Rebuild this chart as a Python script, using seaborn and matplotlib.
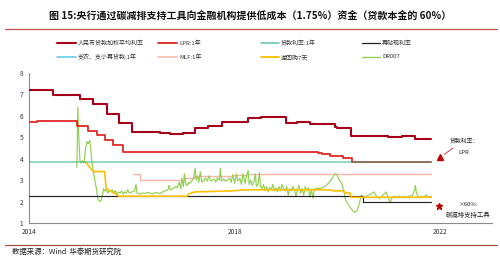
import matplotlib
matplotlib.use('Agg')
import matplotlib.pyplot as plt
import seaborn as sns
import pandas as pd
from matplotlib.lines import Line2D

sns.set_theme(style='white')
plt.rcParams['font.family'] = ['Noto Sans CJK SC', 'DejaVu Sans']
plt.rcParams['axes.unicode_minus'] = False

# ---------------- data (decimal years) ----------------
wavg_x = [2014.0, 2014.47, 2015.0, 2015.25, 2015.51, 2015.74, 2016.0, 2016.3, 2016.55, 2016.74,
          2017.0, 2017.23, 2017.48, 2017.75, 2018.26, 2018.5, 2018.75, 2019.0, 2019.2, 2019.47,
          2019.95, 2019.99, 2020.25, 2020.98, 2021.25, 2021.5, 2021.82]
wavg_y = [7.2, 6.97, 6.77, 6.55, 6.07, 5.68, 5.27, 5.24, 5.2, 5.15,
          5.2, 5.42, 5.55, 5.72, 5.9, 5.95, 5.93, 5.68, 5.7, 5.63,
          5.5, 5.45, 5.06, 5.0, 5.08, 4.92, 4.92]

lpr_x = [2014.0, 2014.15, 2014.3, 2014.93, 2015.15, 2015.32, 2015.48, 2015.64, 2015.82,
         2019.62, 2019.7, 2019.85, 2020.1, 2020.28, 2021.82]
lpr_y = [5.73, 5.76, 5.77, 5.53, 5.31, 5.1, 4.87, 4.62, 4.31,
         4.25, 4.2, 4.15, 4.05, 3.85, 3.85]

loan1y_x = [2014.0, 2021.82]
loan1y_y = [3.86, 3.86]

rediscount_x = [2014.0, 2020.5, 2021.82]
rediscount_y = [2.25, 2.0, 2.0]

relending_x = []
relending_y = []

mlf_x = [2016.03, 2016.16, 2017.03, 2017.2, 2017.95, 2018.25, 2021.82]
mlf_y = [3.27, 3.0, 3.1, 3.2, 3.25, 3.3, 3.3]

rr_x = [2015.1, 2015.25, 2015.47, 2015.5, 2015.62, 2015.75, 2017.07, 2017.1, 2017.22, 2017.95,
        2018.2, 2019.88, 2019.9, 2020.12, 2020.14, 2020.24, 2020.26, 2021.82]
rr_y = [3.85, 3.4, 3.4, 2.6, 2.45, 2.25, 2.25, 2.35, 2.45, 2.5,
        2.55, 2.55, 2.5, 2.5, 2.4, 2.4, 2.2, 2.2]

dr_x = [2014.93, 2014.95, 2014.97, 2014.99, 2015.01, 2015.04, 2015.07, 2015.10, 2015.13, 2015.15,
        2015.18, 2015.20, 2015.22, 2015.25, 2015.28, 2015.31, 2015.34, 2015.37, 2015.40, 2015.43,
        2015.45, 2015.47, 2015.50, 2015.53, 2015.56, 2015.59, 2015.62, 2015.65, 2015.68, 2015.71,
        2015.74, 2015.77, 2015.80, 2015.83, 2015.86, 2015.89, 2015.92, 2015.95, 2016.0, 2016.05,
        2016.08, 2016.1, 2016.15, 2016.2, 2016.25, 2016.3, 2016.35, 2016.4, 2016.45, 2016.5,
        2016.55, 2016.6, 2016.65, 2016.7, 2016.72, 2016.75, 2016.8, 2016.85, 2016.88, 2016.92,
        2016.95, 2016.97, 2017.0, 2017.02, 2017.05, 2017.08, 2017.1, 2017.13, 2017.16, 2017.2,
        2017.23, 2017.25, 2017.28, 2017.3, 2017.33, 2017.36, 2017.4, 2017.43, 2017.46, 2017.5,
        2017.53, 2017.56, 2017.6, 2017.63, 2017.66, 2017.7, 2017.72, 2017.74, 2017.78, 2017.82,
        2017.86, 2017.9, 2017.93, 2017.96, 2018.0, 2018.03, 2018.06, 2018.1, 2018.13, 2018.16,
        2018.2, 2018.23, 2018.26, 2018.28, 2018.31, 2018.34, 2018.37, 2018.4, 2018.42, 2018.45,
        2018.48, 2018.5, 2018.53, 2018.56, 2018.59, 2018.62, 2018.65, 2018.68, 2018.71, 2018.74,
        2018.77, 2018.8, 2018.83, 2018.86, 2018.89, 2018.92, 2018.95, 2018.98, 2019.01, 2019.04,
        2019.07, 2019.1, 2019.13, 2019.16, 2019.19, 2019.22, 2019.25, 2019.28, 2019.31, 2019.34,
        2019.37, 2019.4, 2019.43, 2019.46, 2019.49, 2019.52, 2019.55, 2019.6, 2019.65, 2019.7,
        2019.75, 2019.8, 2019.85, 2019.9, 2019.95, 2019.99, 2020.03, 2020.08, 2020.12, 2020.15,
        2020.2, 2020.25, 2020.3, 2020.34, 2020.38, 2020.42, 2020.46, 2020.5, 2020.55, 2020.6,
        2020.65, 2020.7, 2020.74, 2020.78, 2020.82, 2020.86, 2020.9, 2020.94, 2020.98, 2021.02,
        2021.06, 2021.1, 2021.15, 2021.2, 2021.25, 2021.3, 2021.35, 2021.4, 2021.45, 2021.49,
        2021.51, 2021.53, 2021.57, 2021.62, 2021.67, 2021.72, 2021.77, 2021.82]
dr_y = [3.6, 6.4, 4.9, 3.9, 3.8, 3.9, 3.8, 4.5, 4.8, 4.7,
        4.85, 4.5, 3.9, 3.4, 3.0, 2.6, 2.1, 2.0, 2.05, 2.3,
        2.6, 2.5, 2.55, 2.4, 2.5, 2.45, 2.55, 2.4, 2.5, 2.35,
        2.45, 2.4, 2.5, 2.35, 2.45, 2.4, 2.55, 2.4, 2.45, 2.5,
        2.8, 2.4, 2.35, 2.4, 2.38, 2.42, 2.4, 2.35, 2.42, 2.4,
        2.38, 2.45, 2.5, 2.55, 2.75, 2.55, 2.6, 2.7, 2.65, 2.9,
        2.6, 3.1, 2.7, 3.3, 2.8, 2.75, 2.9, 2.85, 2.95, 3.1,
        3.55, 3.0, 3.2, 2.9, 3.4, 2.9, 3.0, 3.1, 2.95, 3.2,
        2.95, 3.0, 3.05, 2.9, 3.1, 3.0, 3.55, 2.95, 3.05, 2.95,
        3.0, 3.1, 2.9, 3.25, 2.85, 3.3, 2.95, 3.1, 2.8, 3.3,
        2.85, 3.2, 3.45, 2.8, 3.0, 2.75, 2.9, 3.3, 2.7, 2.8,
        3.35, 2.7, 2.6, 2.8, 2.5, 2.7, 2.45, 2.65, 2.55, 2.8,
        2.5, 2.65, 2.45, 2.7, 2.5, 2.8, 2.6, 2.5, 2.7, 2.3,
        2.6, 2.5, 2.7, 2.55, 2.25, 2.6, 2.75, 2.4, 2.6, 2.3,
        2.7, 2.5, 2.65, 2.2, 2.55, 2.15, 2.6, 2.62, 2.6, 2.65,
        2.7, 2.8, 2.95, 3.1, 3.3, 3.25, 3.0, 2.85, 2.5, 2.1,
        1.9, 1.7, 1.55, 1.5, 1.6, 1.9, 2.3, 2.2, 2.25, 2.3,
        2.35, 2.45, 2.3, 2.2, 2.15, 2.25, 2.35, 2.45, 2.2, 1.95,
        2.2, 2.25, 2.2, 2.25, 2.2, 2.25, 2.2, 2.25, 2.3, 2.5,
        2.75, 2.4, 2.2, 2.25, 2.2, 2.3, 2.2, 2.25]

y_ticks = [1, 2, 3, 4, 5, 6, 7, 8]
x_ticks = [2014, 2018, 2022]
x_tick_labels = ['2014', '2018', '2022']

labels = ['人民币贷款加权平均利率', 'LPR:1年', '贷款利率:1年', '再贴现利率',
          '支农、支小再贷款:1年', 'MLF:1年', '逆回购7天', 'DR007']

# ---------------- styles ----------------
c_wavg = '#A8001C'
c_lpr = '#E0201E'
c_loan = '#2BB07F'
c_redis = '#222222'
c_relend = '#5BC8E6'
c_mlf = '#F5B5A8'
c_rr = '#FFC000'
c_dr = '#92D050'

W, H = 500, 267
fig = plt.figure(figsize=(W / 100, H / 100), dpi=100)
ax = fig.add_axes([29 / W, 44 / H, (492 - 29) / W, (223 - 73) / H])


def line(x, y, color, lw, alpha=1.0, z=2, steps=False):
    if len(x) == 0:
        return
    df = pd.DataFrame({'x': x, 'y': y})
    kw = dict(drawstyle='steps-post') if steps else {}
    sns.lineplot(data=df, x='x', y='y', ax=ax, color=color, linewidth=lw, alpha=alpha,
                 estimator=None, sort=False, zorder=z, **kw)


line(mlf_x, mlf_y, c_mlf, 1.0, z=2, steps=True)
line(dr_x, dr_y, c_dr, 0.85, z=3)
line(rediscount_x, rediscount_y, c_redis, 0.85, z=4, steps=True)
line(rr_x, rr_y, c_rr, 1.2, z=5)
line(relending_x, relending_y, c_relend, 1.0, z=5)
line(lpr_x, lpr_y, c_lpr, 1.25, z=6, steps=True)
line(loan1y_x, loan1y_y, c_loan, 1.1, alpha=0.62, z=7, steps=True)
line(wavg_x, wavg_y, c_wavg, 1.5, z=8, steps=True)

ax.set_xlim(2014, 2023.0)
ax.set_ylim(1, 8)
ax.set_xticks(x_ticks)
ax.set_xticklabels(x_tick_labels)
ax.set_yticks(y_ticks)
ax.set_xlabel('')
ax.set_ylabel('')
for s in ['top', 'right']:
    ax.spines[s].set_visible(False)
for s in ['left', 'bottom']:
    ax.spines[s].set_color('#8c8c8c')
    ax.spines[s].set_linewidth(0.8)
ax.tick_params(axis='both', labelsize=4.8, colors='#8c8c8c', labelcolor='#333333',
               length=2, width=0.6, pad=2, direction='out')
ax.tick_params(axis='x', pad=1.5)
ax.grid(False)

# ---------------- title & rules ----------------
fig.text(250 / W, 1 - 16 / H, '图 15:央行通过碳减排支持工具向金融机构提供低成本（1.75%）资金（贷款本金的 60%）',
         ha='center', va='center', fontsize=7.2, fontweight='bold', color='#111111')
fig.add_artist(Line2D([5 / W, 497 / W], [1 - 29 / H] * 2, transform=fig.transFigure,
                      color='#C0504D', lw=0.9))
fig.add_artist(Line2D([5 / W, 497 / W], [1 - 245 / H] * 2, transform=fig.transFigure,
                      color='#A0524A', lw=0.9))
fig.text(12 / W, 1 - 252 / H, '数据来源：Wind  华泰期货研究院', ha='left', va='center',
         fontsize=5.3, color='#222222')

# ---------------- legend (manual) ----------------
colors = [c_wavg, c_lpr, c_loan, c_redis, c_relend, c_mlf, c_rr, c_dr]
lws = [1.5, 1.3, 1.1, 0.9, 1.1, 1.1, 1.3, 1.0]
col_x0 = [57, 158, 261, 362]
col_x1 = [76, 177, 279, 380]
col_tx = [78, 179, 281, 382]
row_y = [43, 57]
for i, (lab, c, lw) in enumerate(zip(labels, colors, lws)):
    r, k = divmod(i, 4)
    yy = 1 - row_y[r] / H
    fig.add_artist(Line2D([col_x0[k] / W, col_x1[k] / W], [yy, yy], transform=fig.transFigure,
                          color=c, lw=lw, alpha=0.75 if c == c_loan else 1))
    fig.text(col_tx[k] / W, yy, lab, ha='left', va='center', fontsize=4.3, color='#333333')

# ---------------- annotations ----------------
fig.add_artist(Line2D([440 / W], [1 - 157 / H], transform=fig.transFigure, marker='^',
                      markersize=4.5, color='#C00000', lw=0))
fig.add_artist(Line2D([453 / W, 444 / W], [1 - 148 / H, 1 - 154.5 / H], transform=fig.transFigure,
                      color='#C00000', lw=0.5))
fig.text(464 / W, 1 - 141 / H, '贷款利率：', ha='center', va='center', fontsize=4.2, color='#222222')
fig.text(464 / W, 1 - 152 / H, 'LPR', ha='center', va='center', fontsize=4.2, color='#222222')
fig.add_artist(Line2D([439 / W], [1 - 206 / H], transform=fig.transFigure, marker='*',
                      markersize=4.5, color='#C00000', lw=0))
fig.text(469 / W, 1 - 204 / H, '×60%:', ha='center', va='center', fontsize=4.2, color='#222222')
fig.text(468 / W, 1 - 215 / H, '碳减排支持工具', ha='center', va='center', fontsize=4.6, color='#222222')

fig.savefig('out.png', dpi=100)
